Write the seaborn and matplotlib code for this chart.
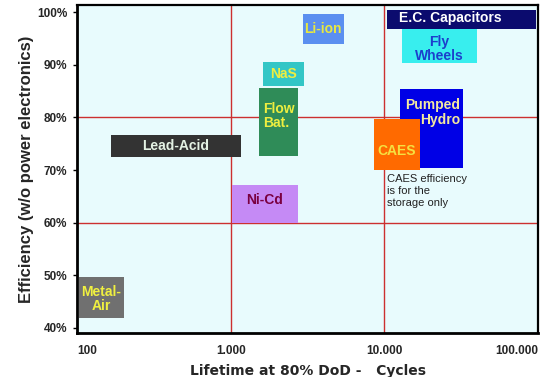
import numpy as np
import matplotlib
matplotlib.use("Agg")
import matplotlib.pyplot as plt
import seaborn as sns
from matplotlib.ticker import FixedLocator, NullLocator

# ---------------- data ----------------
technologies = ["Metal-\nAir", "Lead-Acid", "Ni-Cd", "Flow\nBat.", "NaS", "Li-ion",
                "Pumped\nHydro", "CAES", "Fly\nWheels", "E.C. Capacitors"]
cycles_min = [103, 166, 1016, 1529, 1616, 2944, 12650, 8565, 13030, 10360]
cycles_max = [202, 1161, 2742, 2742, 2999, 5465, 32520, 17060, 40090, 97100]
eff_min = [41.9, 72.5, 60.0, 72.7, 86.0, 94.0, 70.4, 70.0, 90.4, 96.8]
eff_max = [49.7, 76.7, 67.2, 85.6, 90.5, 99.6, 85.4, 79.7, 96.8, 100.5]

x_ticks = [100, 1000, 10000, 100000]
x_tick_labels = ["100", "1.000", "10.000", "100.000"]
y_ticks = [40, 50, 60, 70, 80, 90, 100]
y_tick_labels = ["40%", "50%", "60%", "70%", "80%", "90%", "100%"]
grid_x = [1000, 10000]
grid_y = [60, 80]
note_text = "CAES efficiency\nis for the\nstorage only"
note_anchor = (10400, 69.2)

# ---------------- styles ----------------
box_colors = ["#707070", "#333333", "#c58af5", "#2f8c58", "#33c6c6", "#5b8ff0",
              "#0000e6", "#ff6a00", "#38eeee", "#0b0b6e"]
text_colors = ["#f0f040", "#e4f2e4", "#7a0040", "#eeee40", "#eeee40", "#e8e840",
               "#f2e8a0", "#f5e040", "#1c3fcc", "#ffffff"]
# (fraction x in log space, fraction y, ha, multialignment)
label_place = {
    "Pumped\nHydro": (0.95, 0.70, "right", "right"),
    "Flow\nBat.": (0.5, 0.59, "center", "left"),
    "E.C. Capacitors": (0.08, 0.54, "left", "left"),
    "CAES": (0.5, 0.38, "center", "center"),
    "Fly\nWheels": (0.5, 0.40, "center", "center"),
    "Ni-Cd": (0.5, 0.60, "center", "center"),
    "Metal-\nAir": (0.5, 0.46, "center", "center"),
}

sns.set_theme(style="white")
plt.rcParams["font.family"] = ["Liberation Sans", "DejaVu Sans"]

fig = plt.figure(figsize=(5.5, 3.77), dpi=100)
fig.patch.set_facecolor("white")
ax = fig.add_axes([77 / 550, 1 - 333 / 377, (538 - 77) / 550, (333 - 5) / 377])
ax.set_facecolor("#e8fbfd")
ax.set_xscale("log")
ax.set_xlim(100, 100000)
ax.set_ylim(39.05, 101.36)

for gx in grid_x:
    ax.axvline(gx, color="#cc3030", lw=1.0, zorder=1)
for gy in grid_y:
    ax.axhline(gy, color="#cc3030", lw=1.0, zorder=1)

for i, name in enumerate(technologies):
    ax.bar(cycles_min[i], eff_max[i] - eff_min[i], width=cycles_max[i] - cycles_min[i],
           bottom=eff_min[i], align="edge", color=box_colors[i], edgecolor="none",
           zorder=2 + i * 0.01)
    fx, fy, ha, ma = label_place.get(name, (0.5, 0.5, "center", "center"))
    lx0, lx1 = np.log10(cycles_min[i]), np.log10(cycles_max[i])
    tx = 10 ** (lx0 + fx * (lx1 - lx0))
    ty = eff_min[i] + fy * (eff_max[i] - eff_min[i])
    ax.text(tx, ty, name, ha=ha, va="center", multialignment=ma,
            color=text_colors[i], fontsize=10, fontweight="bold", zorder=5,
            linespacing=1.05)

ax.text(note_anchor[0], note_anchor[1], note_text, ha="left", va="top",
        fontsize=8, color="#222222", linespacing=1.25, zorder=5)

ax.xaxis.set_major_locator(FixedLocator(x_ticks))
ax.xaxis.set_minor_locator(NullLocator())
ax.set_xticklabels(x_tick_labels, fontsize=8.5, fontweight="bold")
labs = ax.get_xticklabels()
labs[0].set_horizontalalignment("left")
labs[-1].set_horizontalalignment("right")
ax.tick_params(axis="x", length=0, pad=9)

ax.set_yticks(y_ticks)
ax.set_yticklabels(y_tick_labels, fontsize=8.5, fontweight="bold")
ax.tick_params(axis="y", length=3, width=1, direction="out", pad=4, left=True, color="black")

ax.set_xlabel("Lifetime at 80% DoD -   Cycles", fontsize=10, fontweight="bold",
              family="DejaVu Sans", labelpad=5)
ax.set_ylabel("Efficiency (w/o power electronics)", fontsize=12, fontweight="bold",
              labelpad=2)

for side, lw in [("left", 2.0), ("bottom", 2.0), ("top", 1.6), ("right", 1.6)]:
    ax.spines[side].set_visible(True)
    ax.spines[side].set_color("black")
    ax.spines[side].set_linewidth(lw)

fig.savefig("out.png", dpi=100)
